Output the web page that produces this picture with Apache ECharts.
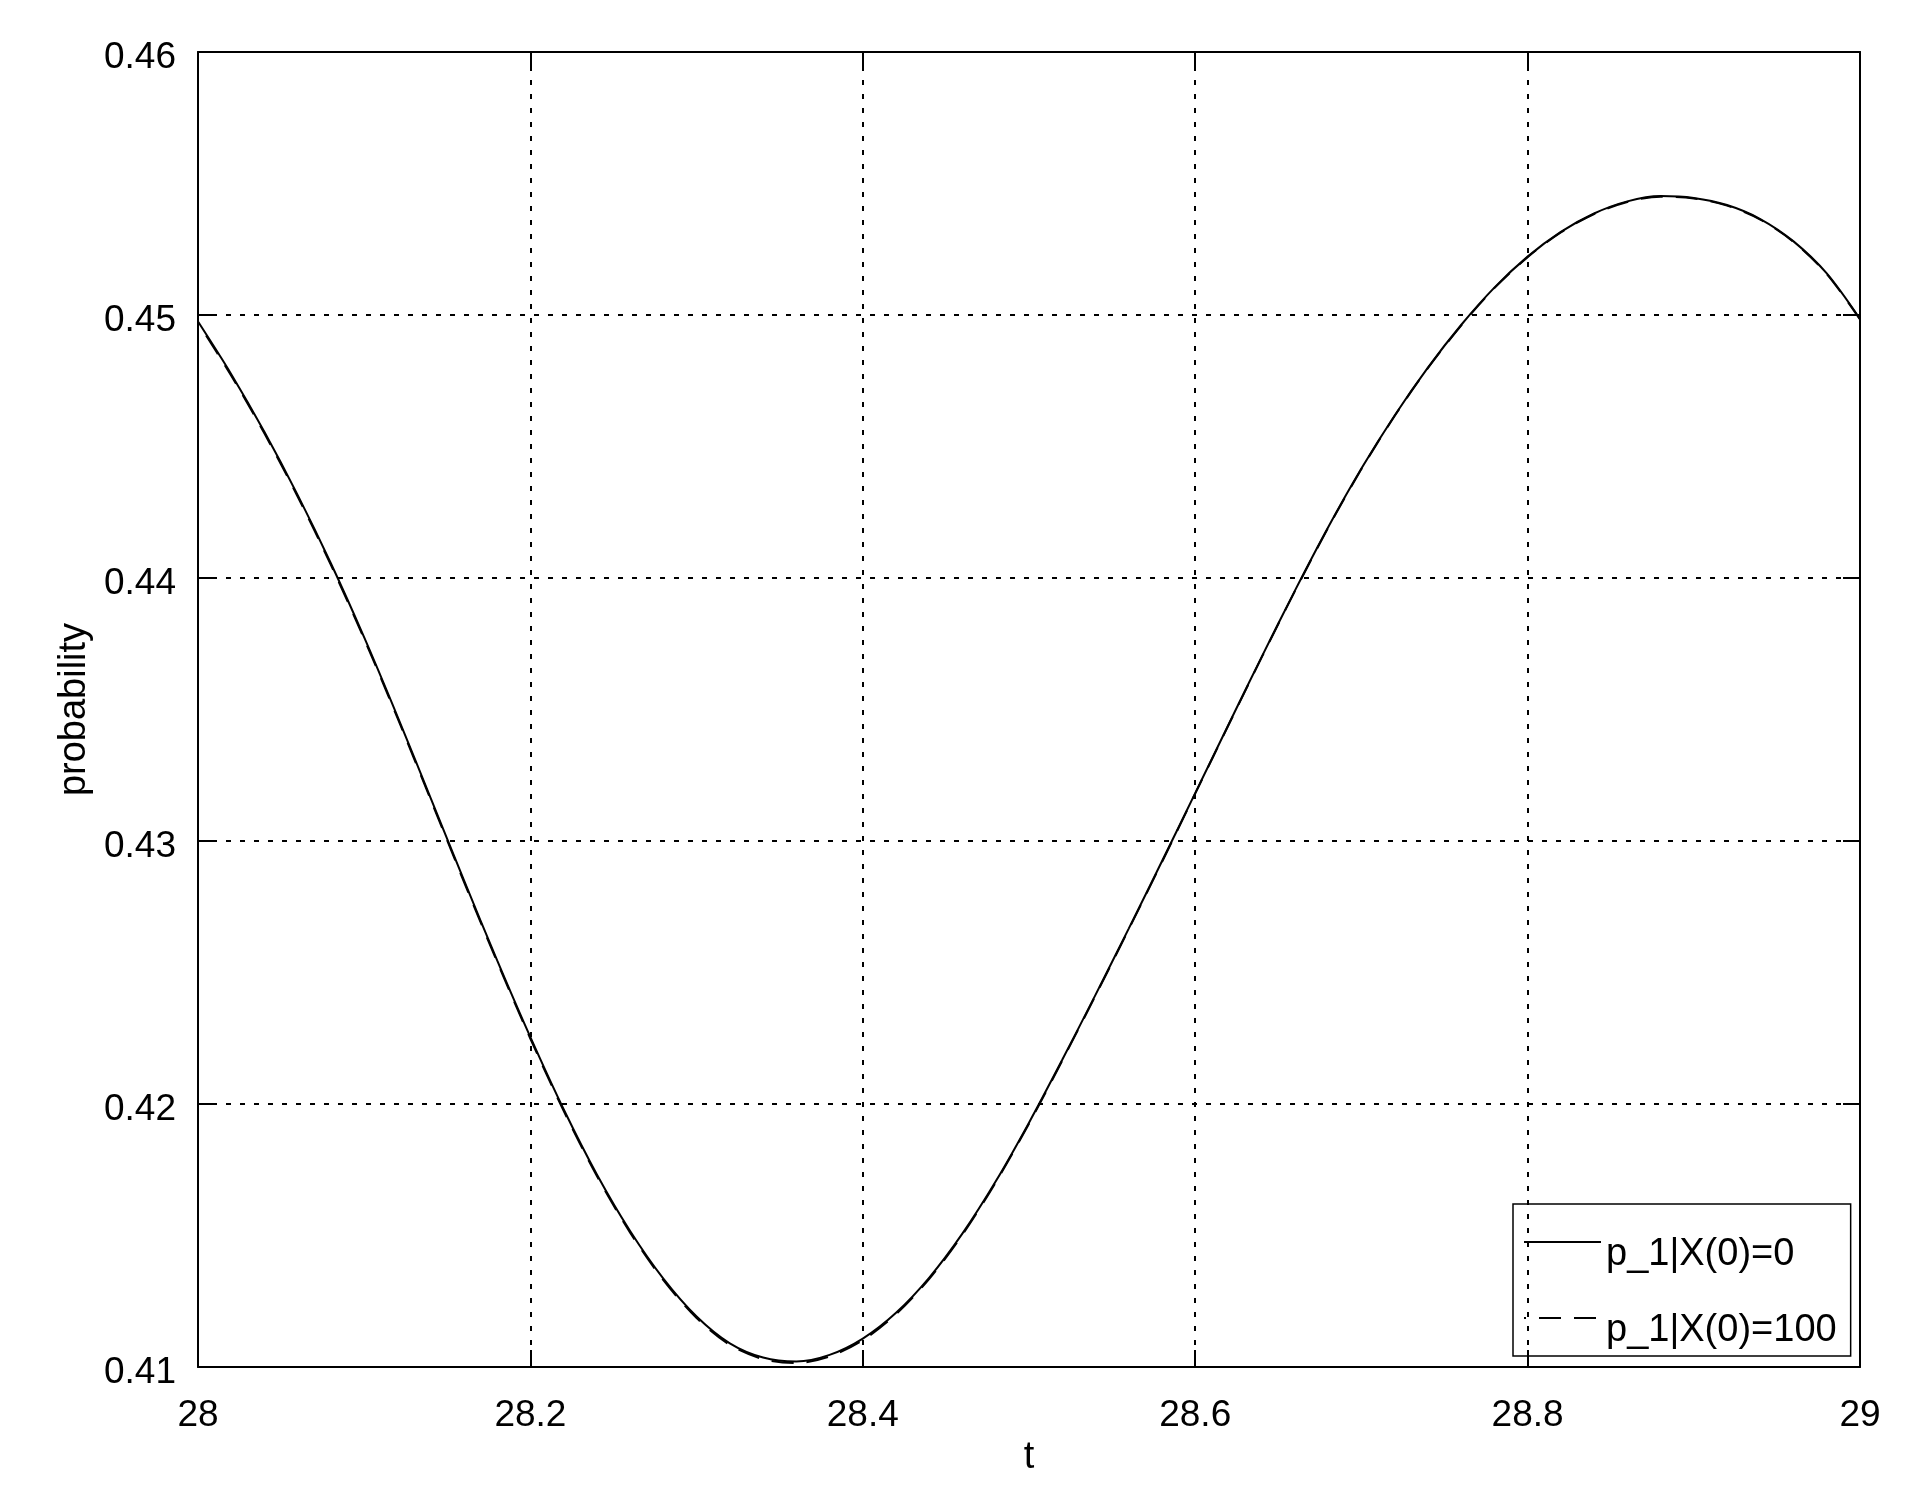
<!DOCTYPE html>
<html>
<head>
<meta charset="utf-8">
<script src="https://cdn.jsdelivr.net/npm/echarts@6/dist/echarts.min.js"></script>
<style>
  html, body { margin: 0; padding: 0; background: #fff; }
  #chart { width: 1927px; height: 1488px; }
</style>
</head>
<body>
<div id="chart"></div>
<script>
// ---- data ----
const tValues = [28.00, 28.02, 28.04, 28.06, 28.08, 28.10, 28.12, 28.14, 28.16, 28.18,
  28.20, 28.22, 28.24, 28.26, 28.28, 28.30, 28.32, 28.34, 28.36, 28.38,
  28.40, 28.42, 28.44, 28.46, 28.48, 28.50, 28.52, 28.54, 28.56, 28.58,
  28.60, 28.62, 28.64, 28.66, 28.68, 28.70, 28.72, 28.74, 28.76, 28.78,
  28.80, 28.82, 28.84, 28.86, 28.88, 28.90, 28.92, 28.94, 28.96, 28.98, 29.00];

const pStart0 = [0.44975, 0.44775, 0.44555, 0.44315, 0.44055, 0.43774, 0.43474, 0.43163, 0.42851, 0.42546,
  0.42254, 0.41980, 0.41732, 0.41517, 0.41336, 0.41192, 0.41090, 0.41036, 0.41021, 0.41046,
  0.41108, 0.41206, 0.41340, 0.41508, 0.41706, 0.41929, 0.42168, 0.42415, 0.42667, 0.42923,
  0.43182, 0.43442, 0.43700, 0.43952, 0.44193, 0.44416, 0.44618, 0.44800, 0.44962, 0.45104,
  0.45222, 0.45316, 0.45386, 0.45432, 0.45452, 0.45445, 0.45418, 0.45365, 0.45280, 0.45158, 0.44985];

const pStart100 = [0.44970, 0.44769, 0.44549, 0.44309, 0.44049, 0.43768, 0.43468, 0.43157, 0.42845, 0.42540,
  0.42248, 0.41974, 0.41726, 0.41511, 0.41330, 0.41186, 0.41084, 0.41030, 0.41015, 0.41040,
  0.41102, 0.41201, 0.41335, 0.41503, 0.41702, 0.41925, 0.42165, 0.42412, 0.42664, 0.42920,
  0.43180, 0.43440, 0.43698, 0.43950, 0.44191, 0.44414, 0.44616, 0.44798, 0.44960, 0.45102,
  0.45220, 0.45314, 0.45384, 0.45430, 0.45450, 0.45443, 0.45416, 0.45363, 0.45278, 0.45156, 0.44983];

const seriesNames = ['p_1|X(0)=0', 'p_1|X(0)=100'];
const xTickLabels = ['28', '28.2', '28.4', '28.6', '28.8', '29'];
const yTickLabels = ['0.41', '0.42', '0.43', '0.44', '0.45', '0.46'];
const xAxisName = 't';
const yAxisName = 'probability';

// ---- chart ----
const FONT = "'Liberation Sans', Arial, 'DejaVu Sans', sans-serif";
const black = '#000';
const chart = echarts.init(document.getElementById('chart'), null, { renderer: 'canvas' });

const frameLine = { show: true, onZero: false, lineStyle: { color: black, width: 2 } };
const innerTick = { show: true, inside: true, length: 17, lineStyle: { color: black, width: 2 } };
const gridDots = { show: true, lineStyle: { color: black, width: 2, type: [5, 9] } };

const option = {
  animation: false,
  backgroundColor: '#fff',
  textStyle: { fontFamily: FONT },
  grid: { left: 198, right: 67, top: 52, bottom: 121, show: false },
  legend: {
    orient: 'vertical',
    left: 1513,
    top: 1204,
    padding: [6, 14, 6, 10],
    borderColor: black,
    borderWidth: 1.5,
    backgroundColor: 'transparent',
    itemWidth: 77,
    itemHeight: 14,
    itemGap: 12,
    data: seriesNames,
    itemStyle: { opacity: 0 },
    formatter: (name) => '{t|' + name + '}',
    textStyle: {
      fontSize: 38, color: black, fontFamily: FONT,
      rich: { t: { fontSize: 38, color: black, fontFamily: FONT, lineHeight: 38, padding: [26, 0, 0, 0] } }
    }
  },
  xAxis: [
    {
      type: 'value', min: 28, max: 29, interval: 0.2, position: 'bottom',
      name: xAxisName, nameLocation: 'middle', nameGap: 72,
      nameTextStyle: { fontSize: 38, color: black, fontFamily: FONT },
      axisLine: frameLine, axisTick: innerTick,
      axisLabel: {
        fontSize: 37, color: black, fontFamily: FONT, margin: 30,
        formatter: (v, i) => xTickLabels[i]
      },
      splitLine: gridDots
    },
    {
      type: 'value', min: 28, max: 29, interval: 0.2, position: 'top',
      axisLine: frameLine, axisTick: innerTick,
      axisLabel: { show: false }, splitLine: { show: false }
    }
  ],
  yAxis: [
    {
      type: 'value', min: 0.41, max: 0.46, interval: 0.01, position: 'left',
      name: yAxisName, nameLocation: 'middle', nameGap: 104, nameRotate: 90,
      nameTextStyle: { fontSize: 38, color: black, fontFamily: FONT },
      axisLine: frameLine, axisTick: innerTick,
      axisLabel: {
        fontSize: 37, color: black, fontFamily: FONT, margin: 22,
        formatter: (v, i) => '{v|' + yTickLabels[i] + '}',
        rich: { v: { fontSize: 37, color: black, fontFamily: FONT, lineHeight: 37, padding: [12, 0, 0, 0] } }
      },
      splitLine: gridDots
    },
    {
      type: 'value', min: 0.41, max: 0.46, interval: 0.01, position: 'right',
      axisLine: frameLine, axisTick: innerTick,
      axisLabel: { show: false }, splitLine: { show: false }
    }
  ],
  series: [
    {
      name: seriesNames[0], type: 'line', xAxisIndex: 0, yAxisIndex: 0,
      data: tValues.map((t, i) => [t, pStart0[i]]),
      symbol: 'none', showSymbol: false, smooth: 0.3, z: 4,
      lineStyle: { color: black, width: 2, type: 'solid' },
      itemStyle: { color: black }
    },
    {
      name: seriesNames[1], type: 'line', xAxisIndex: 0, yAxisIndex: 0,
      data: tValues.map((t, i) => [t, pStart100[i]]),
      symbol: 'none', showSymbol: false, smooth: 0.3, z: 3,
      lineStyle: { color: black, width: 2, type: [22, 13], dashOffset: 20 },
      itemStyle: { color: black }
    }
  ]
};
chart.setOption(option);
</script>
</body>
</html>
